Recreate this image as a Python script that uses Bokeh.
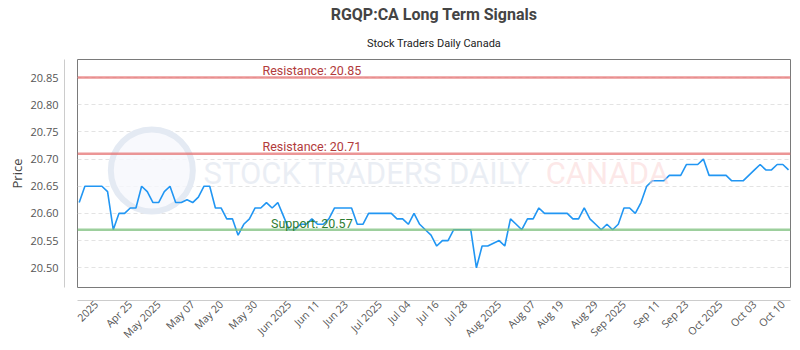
import math
from bokeh.plotting import figure
from bokeh.models import (LinearAxis, FixedTicker, Span, Label, Title, Range1d,
                          NumeralTickFormatter, ColumnDataSource)
from bokeh.embed import file_html
from bokeh.resources import INLINE

# ---------------- data ----------------
prices = [
    20.62, 20.65, 20.65, 20.65, 20.65, 20.64, 20.57, 20.60, 20.60, 20.61,
    20.61, 20.65, 20.64, 20.62, 20.62, 20.64, 20.65, 20.62, 20.62, 20.625,
    20.62, 20.63, 20.65, 20.65, 20.61, 20.61, 20.59, 20.59, 20.56, 20.58,
    20.59, 20.61, 20.61, 20.62, 20.61, 20.62, 20.595, 20.57, 20.57, 20.58,
    20.58, 20.59, 20.58, 20.58, 20.59, 20.61, 20.61, 20.61, 20.61, 20.58,
    20.58, 20.60, 20.60, 20.60, 20.60, 20.60, 20.59, 20.59, 20.58, 20.60,
    20.58, 20.57, 20.56, 20.54, 20.55, 20.55, 20.57, 20.57, 20.57, 20.57,
    20.50, 20.54, 20.54, 20.545, 20.55, 20.54, 20.59, 20.58, 20.57, 20.59,
    20.59, 20.61, 20.60, 20.60, 20.60, 20.60, 20.60, 20.59, 20.59, 20.61,
    20.59, 20.58, 20.57, 20.58, 20.57, 20.58, 20.61, 20.61, 20.60, 20.62,
    20.65, 20.66, 20.66, 20.66, 20.67, 20.67, 20.67, 20.69, 20.69, 20.69,
    20.70, 20.67, 20.67, 20.67, 20.67, 20.66, 20.66, 20.66, 20.67, 20.68,
    20.69, 20.68, 20.68, 20.69, 20.69, 20.68,
]
days = list(range(len(prices)))

tick_labels = ["2025", "Apr 25", "May 2025", "May 07", "May 20", "May 30",
               "Jun 2025", "Jun 11", "Jun 23", "Jul 2025", "Jul 04", "Jul 16",
               "Jul 28", "Aug 2025", "Aug 07", "Aug 19", "Aug 29", "Sep 2025",
               "Sep 11", "Sep 23", "Oct 2025", "Oct 03", "Oct 10"]
tick_pos = [3, 9, 14, 20, 25, 31, 37, 42, 47, 53, 58, 63, 68, 74, 80, 85, 91,
            96, 102, 107, 113, 119, 124]

y_ticks = [20.50, 20.55, 20.60, 20.65, 20.70, 20.75, 20.80, 20.85]
resistance_levels = [20.85, 20.71]
support_levels = [20.57]

# ---------------- figure ----------------
p = figure(width=800, height=350, output_backend="svg", toolbar_location=None,
           x_range=Range1d(-0.3, 125.35), y_range=Range1d(20.4637, 20.8832),
           x_axis_location=None, y_axis_location=None,
           min_border_left=77, min_border_right=10, min_border_top=59,
           min_border_bottom=63)
p.background_fill_color = "white"
p.border_fill_color = "white"
p.outline_line_color = "#7a7a7a"
p.outline_line_width = 1

# titles
p.title.text = "RGQP:CA Long Term Signals"
p.title.align = "center"
p.title.text_font = "Roboto"
p.title.text_font_size = "16px"
p.title.text_font_style = "bold"
p.title.text_color = "#444444"
p.title.standoff = 3
sub = Title(text="Stock Traders Daily Canada", align="center",
            text_font="Roboto", text_font_size="11px",
            text_font_style="normal", text_color="#222222", standoff=19)
p.add_layout(sub, "above")

# grid
p.xgrid.visible = False
p.ygrid.ticker = FixedTicker(ticks=y_ticks)
p.ygrid.grid_line_color = "#e3e3e3"
p.ygrid.grid_line_dash = "4 3"

# spacer axes (inner, invisible, ~10px) then labelled axes (outer)
for loc in ("left", "below"):
    spacer = LinearAxis(ticker=FixedTicker(ticks=[]), major_tick_out=0,
                        major_tick_in=0, major_tick_line_color=None,
                        minor_tick_line_color=None, minor_tick_out=0,
                        major_label_standoff=0, axis_line_color=None,
                        axis_label=" ", axis_label_standoff=9,
                        axis_label_text_font_size="1px",
                        axis_label_text_color=None)
    p.add_layout(spacer, loc)

yax = LinearAxis(ticker=FixedTicker(ticks=y_ticks),
                 formatter=NumeralTickFormatter(format="0.00"),
                 axis_line_color="#cccccc", major_tick_line_color=None,
                 major_tick_out=0, major_tick_in=0,
                 minor_tick_line_color=None, minor_tick_out=0,
                 major_label_standoff=6,
                 major_label_text_font="Open Sans",
                 major_label_text_font_size="11px",
                 major_label_text_color="#555555",
                 axis_label="Price", axis_label_standoff=1,
                 axis_label_text_font="Open Sans",
                 axis_label_text_font_size="13px",
                 axis_label_text_font_style="normal",
                 axis_label_text_color="#444444")
p.add_layout(yax, "left")

xax = LinearAxis(ticker=FixedTicker(ticks=tick_pos),
                 major_label_overrides={pos: lab for pos, lab in zip(tick_pos, tick_labels)},
                 axis_line_color="#cccccc", major_tick_line_color=None,
                 major_tick_out=0, major_tick_in=0,
                 minor_tick_line_color=None, minor_tick_out=0,
                 major_label_standoff=2,
                 major_label_orientation=math.pi / 4,
                 major_label_text_font="Open Sans",
                 major_label_text_font_size="10.5px",
                 major_label_text_color="#555555")
p.add_layout(xax, "below")

# watermark (decorative)
p.scatter([12.8], [20.679], marker="circle", size=82, fill_color="#f6f8fc",
          fill_alpha=0.8, line_color="#e4eaf3", line_width=6)
p.add_layout(Label(x=21.9, y=20.6393, text="STOCK TRADERS DAILY",
                   text_font="Roboto", text_font_size="31px",
                   text_color="#dde3ee", text_alpha=0.6))
p.add_layout(Label(x=82.2, y=20.6393, text="CANADA",
                   text_font="Roboto", text_font_size="31px",
                   text_color="#fbd5d5", text_alpha=0.55))

# support / resistance
for lvl in resistance_levels:
    p.add_layout(Span(location=lvl, dimension="width", line_color="#e57373",
                      line_alpha=0.75, line_width=2.5))
    p.add_layout(Label(x=41, y=lvl, y_offset=7, text=f"Resistance: {lvl:.2f}",
                       text_align="center", text_baseline="alphabetic",
                       text_font="Roboto", text_font_size="12.5px",
                       text_color="#b23b3b"))
for lvl in support_levels:
    p.add_layout(Span(location=lvl, dimension="width", line_color="#7cbf7c",
                      line_alpha=0.75, line_width=2.5))
    p.add_layout(Label(x=41, y=lvl, y_offset=6, text=f"Support: {lvl:.2f}",
                       text_align="center", text_baseline="alphabetic",
                       text_font="Roboto", text_font_size="12.5px",
                       text_color="#2e7d32"))

# price line
src = ColumnDataSource(data=dict(day=days, price=prices))
p.line("day", "price", source=src, line_color="#2196f3", line_width=1.6)

open("out.html", "w").write(file_html(p, INLINE))
